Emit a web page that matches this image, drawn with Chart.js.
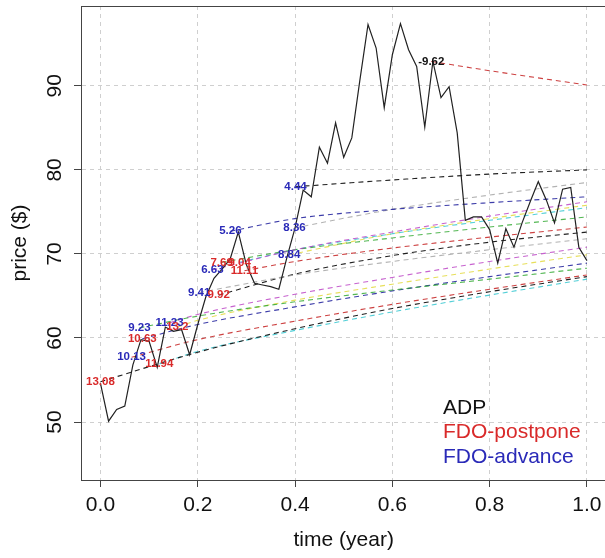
<!DOCTYPE html>
<html>
<head>
<meta charset="utf-8">
<script src="https://cdn.jsdelivr.net/npm/chart.js@4.4.0/dist/chart.umd.min.js"></script>
<style>
  html, body { margin: 0; padding: 0; background: #fff; overflow: hidden; }
  #wrap { width: 612px; height: 558px; }
</style>
</head>
<body>
<div id="wrap"><canvas id="myChart"></canvas></div>
<script>
// Simulated price path, one value per step of 1/60 year
const priceVals = [
  54.6, 50.1, 51.5, 51.9, 56.8, 59.8, 59.6, 56.5, 61.3, 60.8,
  61.0, 58.0, 61.6, 64.9, 67.1, 68.2, 69.4, 72.6, 68.7, 66.5,
  66.3, 66.1, 65.8, 69.6, 73.1, 77.6, 76.8, 82.7, 80.8, 85.6,
  81.5, 83.8, 90.7, 97.3, 94.5, 87.4, 93.7, 97.4, 94.3, 92.3,
  85.1, 92.9, 88.6, 89.9, 84.4, 74.0, 74.4, 74.4, 72.9, 68.9,
  73.0, 70.8, 73.7, 76.2, 78.6, 76.4, 73.7, 77.7, 77.9, 70.8, 69.2
];
const stepsPerYear = 60;

// Expected price curves started at each decision point
const curveLabels = ['13.08', '10.13', '9.23', '10.63', '11.94', '11.23', '13.2', '9.41', '9.92',
  '6.63', '7.69', '9.04', '11.11', '5.26', '8.84', '8.36', '4.44', '-9.62'];
const labelKinds = ['postpone', 'advance', 'advance', 'postpone', 'postpone', 'advance', 'postpone',
  'advance', 'postpone', 'advance', 'postpone', 'postpone', 'postpone', 'advance', 'advance',
  'advance', 'advance', 'ADP'];
const curveTimes = [
  [0, 0.2, 0.4, 0.6, 0.8, 1],
  [0.064, 0.2, 0.4, 0.6, 0.8, 1],
  [0.080, 0.2, 0.4, 0.6, 0.8, 1],
  [0.086, 0.2, 0.4, 0.6, 0.8, 1],
  [0.121, 0.2, 0.4, 0.6, 0.8, 1],
  [0.142, 0.2, 0.4, 0.6, 0.8, 1],
  [0.158, 0.2, 0.4, 0.6, 0.8, 1],
  [0.203, 0.4, 0.6, 0.8, 1],
  [0.243, 0.4, 0.6, 0.8, 1],
  [0.230, 0.4, 0.6, 0.8, 1],
  [0.249, 0.4, 0.6, 0.8, 1],
  [0.286, 0.4, 0.6, 0.8, 1],
  [0.296, 0.4, 0.6, 0.8, 1],
  [0.267, 0.4, 0.6, 0.8, 1],
  [0.388, 0.6, 0.8, 1],
  [0.399, 0.6, 0.8, 1],
  [0.401, 0.6, 0.8, 1],
  [0.680, 0.8, 1]
];
const curveValues = [
  [54.8, 58.3, 61.1, 63.5, 65.5, 67.3],
  [57.7, 59.8, 62.0, 64.0, 65.8, 67.5],
  [61.2, 62.6, 64.3, 65.7, 67.0, 68.3],
  [59.9, 61.6, 63.7, 65.6, 67.3, 68.9],
  [56.9, 58.4, 60.9, 63.1, 65.1, 67.0],
  [61.8, 62.8, 65.2, 67.2, 69.1, 70.8],
  [61.3, 62.1, 64.5, 66.4, 68.2, 69.9],
  [65.4, 67.5, 69.1, 70.5, 71.8],
  [65.1, 67.6, 69.8, 71.4, 72.6],
  [68.1, 70.5, 72.6, 74.5, 76.2],
  [69.0, 70.5, 71.9, 73.2, 74.4],
  [69.0, 70.5, 72.4, 74.0, 75.5],
  [68.0, 69.1, 70.7, 72.0, 73.2],
  [72.7, 74.2, 75.3, 76.1, 76.8],
  [69.9, 72.4, 74.2, 75.8],
  [73.1, 75.3, 77.0, 78.5],
  [78.0, 78.8, 79.5, 80.0],
  [92.9, 91.8, 90.1]
];

const xTicks = [0, 0.2, 0.4, 0.6, 0.8, 1.0];
const yTicks = [50, 60, 70, 80, 90];
const legendNames = ['ADP', 'FDO-postpone', 'FDO-advance'];

// colours
const lineColors = {
  black: 'rgba(20,20,20,0.95)',
  red: 'rgba(200,45,45,0.9)',
  green: 'rgba(40,165,40,0.8)',
  blue: 'rgba(40,40,160,0.9)',
  cyan: 'rgba(40,195,205,0.8)',
  magenta: 'rgba(185,60,195,0.8)',
  yellow: 'rgba(225,215,50,0.8)',
  grey: 'rgba(165,165,165,0.85)'
};
const curveColors = ['black', 'red', 'green', 'blue', 'cyan', 'magenta', 'yellow', 'grey', 'black',
  'magenta', 'green', 'cyan', 'red', 'blue', 'yellow', 'grey', 'black', 'red'];
const kindColors = { ADP: '#111111', postpone: '#d92a2a', advance: '#2a2ab8' };

const FONT = '"Liberation Sans", Arial, sans-serif';

const priceSet = {
  label: 'price',
  data: priceVals.map((p, i) => ({ x: i / stepsPerYear, y: p })),
  borderColor: '#222',
  borderWidth: 1.2,
  pointRadius: 0,
  tension: 0,
  order: 0
};

const curveSets = curveLabels.map((lab, i) => ({
  label: lab,
  data: curveTimes[i].map((t, j) => ({ x: t, y: curveValues[i][j] })),
  borderColor: lineColors[curveColors[i]],
  borderWidth: 1.1,
  borderDash: [5, 4],
  pointRadius: 0,
  cubicInterpolationMode: 'monotone',
  order: 1
}));

// box, turned y tick labels, point labels and the text legend
const extras = {
  id: 'extras',
  afterDatasetsDraw(chart) {
    const { ctx, scales: { x, y } } = chart;
    ctx.save();
    ctx.font = 'bold 11.5px ' + FONT;
    ctx.textAlign = 'center';
    ctx.textBaseline = 'middle';
    curveLabels.forEach((lab, i) => {
      ctx.fillStyle = kindColors[labelKinds[i]];
      ctx.fillText(lab, x.getPixelForValue(curveTimes[i][0]), y.getPixelForValue(curveValues[i][0]));
    });
    ctx.restore();
  },
  afterDraw(chart) {
    const { ctx, chartArea: a, scales: { y } } = chart;
    ctx.save();
    ctx.strokeStyle = '#444';
    ctx.lineWidth = 1;
    ctx.strokeRect(Math.round(a.left) + 0.5, Math.round(a.top) + 0.5,
      Math.round(a.right - a.left), Math.round(a.bottom - a.top));

    ctx.fillStyle = '#111';
    ctx.font = '21px ' + FONT;
    ctx.textAlign = 'center';
    ctx.textBaseline = 'middle';
    y.ticks.forEach(t => {
      ctx.save();
      ctx.translate(a.left - 26, y.getPixelForValue(t.value));
      ctx.rotate(-Math.PI / 2);
      ctx.fillText(String(t.value), 0, 0);
      ctx.restore();
    });

    ctx.textAlign = 'left';
    const colors = [kindColors.ADP, kindColors.postpone, kindColors.advance];
    legendNames.forEach((name, i) => {
      ctx.fillStyle = colors[i];
      ctx.fillText(name, a.left + 362, a.bottom - 72 + i * 24.5);
    });
    ctx.restore();
  }
};

const config = {
  type: 'line',
  data: { datasets: [priceSet, ...curveSets] },
  options: {
    responsive: true,
    maintainAspectRatio: false,
    animation: false,
    layout: { padding: { top: 6, right: 5.6, left: 0, bottom: 0 } },
    plugins: { legend: { display: false }, tooltip: { enabled: false } },
    scales: {
      x: {
        type: 'linear',
        min: -0.04,
        max: 1.04,
        afterBuildTicks: s => { s.ticks = xTicks.map(v => ({ value: v })); },
        afterFit: s => { s.height = 78; },
        grid: { color: '#cfcfcf', lineWidth: 1, tickLength: 7, tickColor: '#444', tickWidth: 1 },
        border: { display: true, color: '#444', width: 1, dash: [4, 4] },
        ticks: {
          color: '#111', padding: 6, maxRotation: 0, font: { family: FONT, size: 21 },
          callback: v => Number(v).toFixed(1)
        },
        title: {
          display: true, text: 'time (year)', color: '#111',
          font: { family: FONT, size: 21 }, padding: { top: 0, bottom: 5 }
        }
      },
      y: {
        type: 'linear',
        min: 43.1,
        max: 99.5,
        afterBuildTicks: s => { s.ticks = yTicks.map(v => ({ value: v })); },
        afterFit: s => { s.width = 81; },
        grid: { color: '#cfcfcf', lineWidth: 1, tickLength: 7, tickColor: '#444', tickWidth: 1 },
        border: { display: true, color: '#444', width: 1, dash: [4, 4] },
        ticks: { display: false },
        title: {
          display: true, text: 'price ($)', color: '#111',
          font: { family: FONT, size: 21 }, padding: { top: 8, bottom: 0 }
        }
      }
    }
  },
  plugins: [extras]
};

const chart = new Chart(document.getElementById('myChart'), config);
</script>
</body>
</html>
